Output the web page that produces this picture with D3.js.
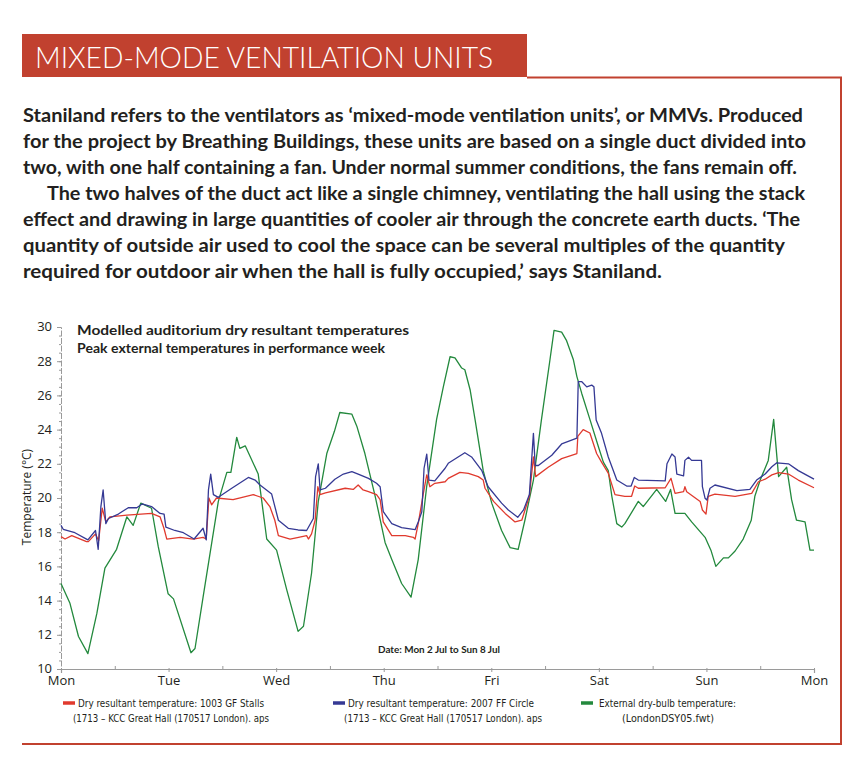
<!DOCTYPE html>
<html>
<head>
<meta charset="utf-8">
<script src="https://cdn.jsdelivr.net/npm/d3@7"></script>
<style>
  html, body { margin: 0; padding: 0; background: #fff; }
  svg { display: block; }
</style>
</head>
<body>
<svg id="chart" width="860" height="780"></svg>
<script>
// ---------- DATA ----------
const headline = "MIXED-MODE VENTILATION UNITS";
const paragraph = [
  "Staniland refers to the ventilators as \u2018mixed-mode ventilation units\u2019, or MMVs. Produced",
  "for the project by Breathing Buildings, these units are based on a single duct divided into",
  "two, with one half containing a fan. Under normal summer conditions, the fans remain off.",
  "The two halves of the duct act like a single chimney, ventilating the hall using the stack",
  "effect and drawing in large quantities of cooler air through the concrete earth ducts. \u2018The",
  "quantity of outside air used to cool the space can be several multiples of the quantity",
  "required for outdoor air when the hall is fully occupied,\u2019 says Staniland."
];
const chartTitle = ["Modelled auditorium dry resultant temperatures", "Peak external temperatures in performance week"];
const dateNote = "Date: Mon 2 Jul to Sun 8 Jul";
const yLabel = "Temperature (\u00B0C)";
const dayLabels = ["Mon", "Tue", "Wed", "Thu", "Fri", "Sat", "Sun", "Mon"];
const yTicks = [10, 12, 14, 16, 18, 20, 22, 24, 26, 28, 30];

// [hour from Mon 00:00, temperature °C]
const stalls = [
  [0,17.74],[0.9,17.6],[2.4,17.8],[5.7,17.45],[6.1,17.45],[7.7,17.9],[8.4,17.5],[9.2,19.4],[10.0,18.6],[10.9,18.9],
  [14.7,19.0],[20.2,19.1],[22.1,18.9],[23.0,18.2],[23.6,17.6],[26.6,17.7],[29.5,17.6],[31.7,17.7],[32.4,17.6],
  [33.0,20.0],[33.6,19.6],[34.7,20.0],[38.4,19.9],[42.9,20.2],[45.1,20.0],[46.6,19.5],[47.7,18.7],[48.5,17.8],
  [51.1,17.6],[53.0,17.7],[54.8,17.8],[55.2,17.6],[55.9,17.9],[56.7,18.7],[57.3,20.66],[57.8,20.2],[59.0,20.3],
  [63.4,20.57],[65.2,20.5],[66.3,20.76],[67.4,20.47],[68.6,20.37],[70.4,20.2],[71.2,19.9],[71.9,18.6],[73.8,17.8],
  [76.8,17.8],[78.6,17.7],[79.0,17.6],[79.7,18.5],[80.8,20.2],[81.6,21.35],[82.3,20.66],[83.4,20.86],[85.7,20.95],
  [86.4,21.15],[89.0,21.5],[90.9,21.44],[93.1,21.25],[94.2,21.05],[94.6,20.57],[96.5,19.8],[99.1,19.1],[101.3,18.6],
  [102.8,18.7],[104.5,20.1],[105.4,22.4],[105.9,21.25],[108.7,21.8],[111.7,22.3],[115.1,22.6],[115.3,23.6],[116.5,24.0],
  [118.0,23.8],[119.5,22.6],[120.6,22.1],[122.1,21.45],[123.6,20.2],[125.8,20.1],[127.3,20.1],[128.0,20.7],[128.8,20.57],
  [134.8,20.6],[136.1,21.15],[137.0,20.27],[138.9,20.37],[139.2,20.66],[139.6,20.37],[142.6,19.8],[143.1,19.3],
  [143.9,19.06],[144.4,20.1],[145.9,20.23],[150.4,20.1],[154.1,20.27],[155.6,20.95],[157.1,21.1],[158.6,21.35],
  [160.1,21.48],[162.3,21.4],[164.5,21.05],[168,20.6]
];
const circle = [
  [0,18.4],[0.5,18.17],[3.1,17.97],[6.0,17.55],[7.7,18.1],[8.3,17.0],[8.9,19.5],[9.4,20.47],[10.0,18.5],[10.6,18.8],
  [12.8,19.06],[15.0,19.43],[16.9,19.43],[18.1,19.65],[20.2,19.5],[22.1,19.1],[23.0,19.06],[23.4,18.3],[25.4,18.1],
  [27.3,17.97],[29.7,17.6],[31.7,18.23],[32.4,17.55],[32.9,20.47],[33.4,21.4],[34.0,20.2],[35.1,20.04],[38.1,20.57],
  [41.8,21.2],[43.3,21.05],[44.4,20.76],[47.0,20.23],[48.5,18.7],[50.7,18.23],[52.9,18.13],[54.8,18.1],[56.3,18.8],
  [56.8,21.25],[57.4,22.0],[57.8,20.47],[59.0,20.57],[61.1,21.1],[63.0,21.4],[64.9,21.54],[66.3,21.4],[68.6,21.15],
  [70.4,20.86],[71.2,20.66],[71.9,19.2],[73.8,18.5],[76.0,18.27],[79.0,18.15],[79.7,18.6],[80.5,19.2],[81.0,21.74],
  [81.6,22.57],[82.1,21.05],[83.4,21.0],[85.7,21.74],[86.4,22.03],[88.6,22.4],[90.1,22.65],[91.6,22.4],[93.9,21.6],
  [95.3,20.66],[98.3,19.7],[99.8,19.3],[101.9,18.87],[103.2,19.3],[104.5,20.2],[105.0,22.2],[105.4,23.78],[105.8,21.9],
  [106.5,21.9],[109.5,22.5],[111.7,23.16],[115.1,23.5],[115.4,26.8],[116.2,26.8],[117.3,26.5],[118.4,26.6],[118.9,26.5],
  [119.4,24.56],[120.6,23.78],[122.1,22.4],[124.0,21.05],[126.2,20.7],[127.2,20.7],[127.9,21.2],[128.8,21.05],
  [134.8,21.0],[135.2,22.0],[136.3,22.57],[137.0,22.4],[137.4,21.4],[138.9,21.3],[139.2,22.2],[140.0,22.38],
  [140.7,22.2],[142.9,22.2],[143.1,20.66],[143.7,19.98],[144.1,19.88],[144.8,20.57],[145.9,20.76],[150.8,20.43],
  [153.7,20.5],[155.2,21.05],[157.1,21.4],[158.6,21.83],[159.7,22.06],[162.3,22.0],[164.5,21.6],[168,21.1]
];
const external = [
  [0,15.0],[2.0,13.84],[3.9,11.9],[6.0,10.9],[8.0,13.25],[9.8,15.9],[12.4,17.0],[14.7,18.9],[16.1,18.4],[17.8,19.7],
  [20.2,19.4],[21.7,17.15],[23.9,14.4],[25.1,14.1],[29.0,10.95],[29.9,11.2],[31.7,14.2],[35.1,19.8],[37.0,21.5],
  [37.9,21.5],[39.2,23.55],[39.9,22.9],[41.1,23.05],[44.0,21.4],[45.9,17.6],[48.1,16.95],[50.4,14.6],[52.9,12.2],
  [54.1,12.5],[55.9,15.6],[57.4,19.8],[59.3,22.6],[61.0,23.9],[62.2,25.0],[64.9,24.9],[66.0,24.2],[67.8,22.6],
  [70.1,20.1],[72.3,17.4],[73.8,16.4],[76.0,15.0],[78.1,14.2],[79.7,16.4],[81.6,20.7],[83.8,24.6],[85.3,26.5],
  [86.8,28.26],[87.9,28.2],[89.4,27.6],[90.1,27.5],[91.3,26.3],[92.4,24.56],[94.2,21.6],[96.1,19.7],[98.3,18.1],
  [100.2,17.1],[102.0,17.0],[103.5,18.7],[105.4,21.05],[107.2,24.6],[109.1,28.1],[110.0,29.8],[111.7,29.7],
  [112.8,29.2],[114.3,28.1],[115.1,27.1],[116.2,26.1],[118.0,24.6],[119.9,23.0],[121.0,22.1],[122.1,21.6],
  [122.9,20.1],[124.0,18.5],[125.1,18.3],[125.8,18.5],[128.8,19.8],[129.9,19.5],[132.9,20.5],[134.9,19.8],
  [136.0,20.5],[137.0,19.1],[139.2,19.1],[140.7,18.6],[143.7,17.7],[145.0,16.95],[146.1,16.0],[147.8,16.5],
  [148.9,16.5],[150.4,16.9],[152.2,17.6],[154.0,18.7],[154.8,20.1],[156.0,21.05],[157.8,22.2],[159.0,24.6],
  [160.1,21.25],[161.9,21.8],[163.0,19.9],[164.1,18.7],[166.0,18.6],[167.1,16.95],[168,16.95]
];
const legendItems = [
  ["Dry resultant temperature: 1003 GF Stalls", "(1713 \u2013 KCC Great Hall (170517 London). aps"],
  ["Dry resultant temperature: 2007 FF Circle", "(1713 \u2013 KCC Great Hall (170517 London). aps"],
  ["External dry-bulb temperature:", "(LondonDSY05.fwt)"]
];

// ---------- STYLE ----------
const RED_FRAME = "#c1412f";
const COLORS = ["#e03a2e", "#353994", "#23893d"];
const AXIS = "#9a9a9a";

const svg = d3.select("#chart");

// Banner
svg.append("rect").attr("x", 22).attr("y", 34).attr("width", 505).attr("height", 43).attr("fill", RED_FRAME);
svg.append("text").attr("x", 35).attr("y", 68)
  .attr("font-family", "Lato, 'Open Sans', sans-serif").attr("font-weight", 300)
  .attr("font-size", 29).attr("fill", "#fff")
  .attr("textLength", 458).attr("lengthAdjust", "spacingAndGlyphs")
  .text(headline);

// Frame
svg.append("path")
  .attr("d", "M527,77.5 H841 V744 H22")
  .attr("fill", "none").attr("stroke", RED_FRAME).attr("stroke-width", 2);

// Paragraph
const paraY = [122, 148, 174, 200, 226, 252, 278];
const paraX = [23, 23, 23, 47, 23, 23, 23];
const paraW = [780, 783, 774, 758, 777, 762, 639];
svg.append("g").selectAll("text").data(paragraph).join("text")
  .attr("x", (d, i) => paraX[i]).attr("y", (d, i) => paraY[i])
  .attr("font-family", "Lato, sans-serif").attr("font-weight", 700)
  .attr("font-size", 18).attr("fill", "#231f20")
  .attr("textLength", (d, i) => paraW[i]).attr("lengthAdjust", "spacingAndGlyphs")
  .text(d => d);

// ---------- CHART ----------
const x = d3.scaleLinear().domain([0, 168]).range([61, 814]);
const y = d3.scaleLinear().domain([10, 30]).range([669, 327]);

const tickFont = "'Open Sans', 'Noto Sans', sans-serif";

// Y axis
const yAxisMinor = d3.axisLeft(y).tickValues(d3.range(10, 30.01, 0.5)).tickSize(2).tickFormat("");
const gyMinor = svg.append("g").attr("transform", "translate(61,0)").call(yAxisMinor);
gyMinor.select(".domain").remove();
gyMinor.selectAll("line").attr("stroke", AXIS);

const yAxis = d3.axisLeft(y).tickValues(yTicks).tickSize(4).tickPadding(5).tickFormat(d3.format("d"));
const gy = svg.append("g").attr("transform", "translate(61,0)").call(yAxis);
gy.select(".domain").attr("stroke", AXIS).attr("stroke-dasharray", "6,1.5");
gy.selectAll("line").attr("stroke", AXIS);
gy.selectAll("text").attr("font-family", tickFont).attr("font-size", 13).attr("fill", "#231f20")
  .attr("dy", "0.3em");

// X axis
const xAxisMinor = d3.axisBottom(x).tickValues(d3.range(12, 168, 24)).tickSize(3).tickFormat("");
const gxMinor = svg.append("g").attr("transform", "translate(0,669)").call(xAxisMinor);
gxMinor.select(".domain").remove();
gxMinor.selectAll("line").attr("stroke", AXIS).attr("transform", "translate(0,-3)");

const xAxis = d3.axisBottom(x).tickValues(d3.range(0, 169, 24)).tickSize(4).tickPadding(4)
  .tickFormat((d, i) => dayLabels[i]);
const gx = svg.append("g").attr("transform", "translate(0,669)").call(xAxis);
gx.select(".domain").attr("stroke", AXIS).attr("stroke-width", 1.2);
gx.selectAll("line").attr("stroke", AXIS).attr("transform", "translate(0,-1)");
gx.selectAll("text").attr("font-family", tickFont).attr("font-size", 13).attr("fill", "#231f20")
  .attr("dy", "0.62em");

// Y label
svg.append("text")
  .attr("transform", "translate(31,497) rotate(-90)")
  .attr("text-anchor", "middle")
  .attr("font-family", tickFont).attr("font-size", 12).attr("fill", "#231f20")
  .text(yLabel);

// Titles
svg.append("g").selectAll("text").data(chartTitle).join("text")
  .attr("x", 77).attr("y", (d, i) => 335 + i * 18)
  .attr("font-family", "Lato, sans-serif").attr("font-weight", 700)
  .attr("font-size", 13.5).attr("fill", "#231f20")
  .attr("textLength", (d, i) => i === 0 ? 332 : 308).attr("lengthAdjust", "spacingAndGlyphs")
  .text(d => d);

svg.append("text").attr("x", 378).attr("y", 653)
  .attr("font-family", "Lato, sans-serif").attr("font-weight", 700)
  .attr("font-size", 10).attr("fill", "#231f20")
  .attr("textLength", 122).attr("lengthAdjust", "spacingAndGlyphs")
  .text(dateNote);

// Lines
const line = d3.line().x(d => x(d[0])).y(d => y(d[1])).curve(d3.curveLinear);
const series = [external, stalls, circle];
const seriesColor = [COLORS[2], COLORS[0], COLORS[1]];
svg.append("g").selectAll("path").data(series).join("path")
  .attr("d", line)
  .attr("fill", "none")
  .attr("stroke", (d, i) => seriesColor[i])
  .attr("stroke-width", 1.3)
  .attr("stroke-linejoin", "round");

// Legend
const legX = [63, 333, 581];
const textW1 = [186, 186, 137];
const textW2 = [196, 198, 92];
const line2X = [73, 344, 622];
const lg = svg.append("g");
legendItems.forEach((item, i) => {
  lg.append("line").attr("x1", legX[i]).attr("x2", legX[i] + 12)
    .attr("y1", 703).attr("y2", 703)
    .attr("stroke", COLORS[i]).attr("stroke-width", 3.5);
  lg.append("text").attr("x", legX[i] + 15 + (i === 2 ? 3 : 0)).attr("y", 707)
    .attr("font-family", "'Liberation Sans Narrow', 'DejaVu Sans Condensed', sans-serif")
    .attr("font-size", 11).attr("fill", "#231f20")
    .attr("textLength", textW1[i]).attr("lengthAdjust", "spacingAndGlyphs")
    .text(item[0]);
  lg.append("text").attr("x", line2X[i]).attr("y", 722)
    .attr("font-family", "'Liberation Sans Narrow', 'DejaVu Sans Condensed', sans-serif")
    .attr("font-size", 11).attr("fill", "#231f20")
    .attr("textLength", textW2[i]).attr("lengthAdjust", "spacingAndGlyphs")
    .text(item[1]);
});
</script>
</body>
</html>
